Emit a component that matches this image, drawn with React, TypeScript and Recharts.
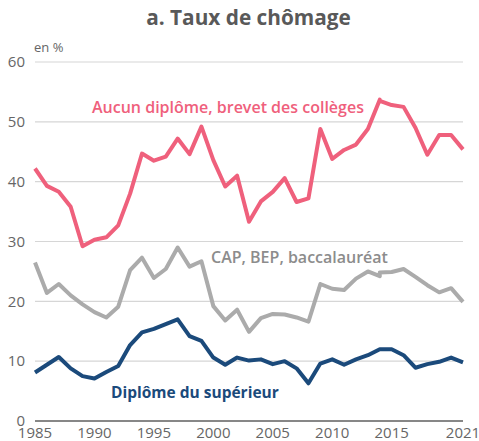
import { LineChart, Line, XAxis, YAxis, CartesianGrid } from 'recharts';

const years = [
  1985, 1986, 1987, 1988, 1989, 1990, 1991, 1992, 1993, 1994, 1995, 1996, 1997, 1998, 1999,
  2000, 2001, 2002, 2003, 2004, 2005, 2006, 2007, 2008, 2009, 2010, 2011, 2012, 2013, 2014,
  2014, 2015, 2016, 2017, 2018, 2019, 2020, 2021,
];

const aucunDiplome = [
  42.2, 39.3, 38.3, 35.8, 29.2, 30.3, 30.7, 32.7, 38.0, 44.7, 43.5, 44.2, 47.2, 44.6, 49.2,
  43.6, 39.2, 41.0, 33.3, 36.7, 38.3, 40.6, 36.6, 37.2, 48.8, 43.8, 45.3, 46.2, 48.8, 53.7,
  53.5, 52.8, 52.5, 49.0, 44.5, 47.8, 47.8, 45.4,
];

const capBep = [
  26.5, 21.4, 22.9, 21.0, 19.5, 18.2, 17.3, 19.1, 25.2, 27.3, 23.9, 25.4, 29.0, 25.8, 26.7,
  19.2, 16.8, 18.6, 14.9, 17.2, 17.9, 17.8, 17.3, 16.6, 22.9, 22.1, 21.9, 23.8, 25.0, 24.2,
  24.8, 24.9, 25.4, 24.1, 22.7, 21.5, 22.2, 19.9,
];

const superieur = [
  8.1, 9.4, 10.7, 8.8, 7.5, 7.1, 8.2, 9.2, 12.7, 14.8, 15.4, 16.2, 17.0, 14.2, 13.4,
  10.6, 9.4, 10.6, 10.1, 10.3, 9.5, 10.0, 8.8, 6.3, 9.6, 10.3, 9.4, 10.3, 11.0, 12.0,
  12.0, 12.0, 11.0, 8.9, 9.5, 9.9, 10.6, 9.8,
];

const xTicks = [1985, 1990, 1995, 2000, 2005, 2010, 2015, 2021];
const yTicks = [0, 10, 20, 30, 40, 50, 60];

const data = years.map((year, i) => ({
  year,
  aucun: aucunDiplome[i],
  cap: capBep[i],
  sup: superieur[i],
}));

const PINK = '#ef607c';
const GREY = '#ababab';
const NAVY = '#1b4a7b';
const FONT = '"Open Sans", sans-serif';

export default function App() {
  return (
    <div style={{ position: 'absolute', left: 0, top: 0, width: 479, height: 441, background: '#fff', fontFamily: FONT, overflow: 'hidden' }}>
      <div style={{ position: 'absolute', left: 0, width: 497, top: 3, textAlign: 'center', fontSize: 20.8, fontWeight: 700, color: '#595959' }}>
        a. Taux de chômage
      </div>
      <div style={{ position: 'absolute', left: 34, top: 38, fontSize: 13, color: '#666' }}>en %</div>

      <LineChart width={479} height={441} data={data} margin={{ top: 62, right: 16, bottom: 0, left: 0 }}>
        <CartesianGrid vertical={false} stroke="#d6d6d6" strokeWidth={1.2} />
        <XAxis
          dataKey="year"
          type="number"
          domain={[1985, 2021]}
          ticks={xTicks}
          interval={0}
          tickLine={false}
          axisLine={{ stroke: '#666', strokeWidth: 1.5 }}
          tickSize={3}
          tickMargin={3}
          height={20}
          tick={{ fill: '#666', fontSize: 15, fontFamily: FONT }}
        />
        <YAxis
          type="number"
          domain={[0, 60]}
          ticks={yTicks}
          interval={0}
          width={35}
          tickLine={false}
          axisLine={false}
          tickMargin={4}
          tick={{ fill: '#666', fontSize: 15, fontFamily: FONT }}
        />
        <Line type="linear" dataKey="aucun" stroke={PINK} strokeWidth={4} dot={false} isAnimationActive={false} strokeLinejoin="round" />
        <Line type="linear" dataKey="cap" stroke={GREY} strokeWidth={4} dot={false} isAnimationActive={false} strokeLinejoin="round" />
        <Line type="linear" dataKey="sup" stroke={NAVY} strokeWidth={4} dot={false} isAnimationActive={false} strokeLinejoin="round" />
      </LineChart>

      <div style={{ position: 'absolute', left: 92, top: 96, fontSize: 16, fontWeight: 600, color: PINK, whiteSpace: 'nowrap' }}>
        Aucun diplôme, brevet des collèges
      </div>
      <div style={{ position: 'absolute', left: 211, top: 246, fontSize: 16, fontWeight: 600, color: '#8c8c8c', whiteSpace: 'nowrap' }}>
        CAP, BEP, baccalauréat
      </div>
      <div style={{ position: 'absolute', left: 111, top: 381, fontSize: 15.5, fontWeight: 700, color: NAVY, whiteSpace: 'nowrap' }}>
        Diplôme du supérieur
      </div>
    </div>
  );
}
